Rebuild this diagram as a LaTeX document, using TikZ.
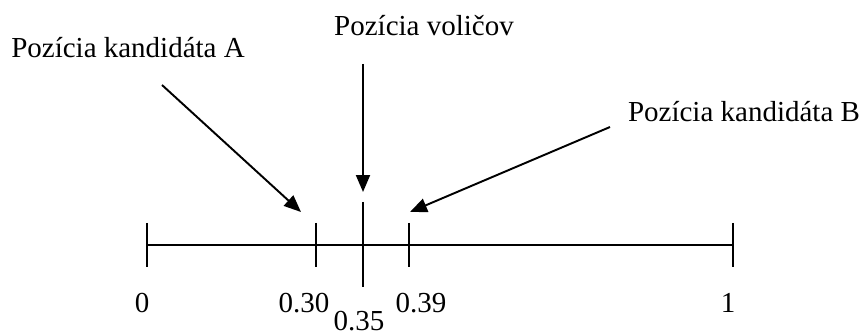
\documentclass[tikz,border=0pt]{standalone}
\usepackage{fontspec}
\setmainfont{Liberation Serif}
\usetikzlibrary{arrows.meta}

\tikzset{
  lbl/.style={anchor=base,inner sep=0pt,font=\fontsize{16.5}{19}\selectfont},
  num/.style={anchor=base,inner sep=0pt,font=\fontsize{16.5}{19}\selectfont},
  axisline/.style={line width=1.1pt},
  pointer/.style={line width=1.1pt,-{Triangle[length=0.34cm,width=0.28cm]}}
}

\begin{document}
\begin{tikzpicture}[x=0.02cm,y=-0.02cm]
                      \useasboundingbox (0,0) rectangle (862,334);
                      % labels
                      \node[lbl] (CandA) at (128,58) {Pozícia kandidáta A};
                      \node[lbl] (Voters) at (424,36) {Pozícia voličov};
                      \node[lbl] (CandB) at (744,122) {Pozícia kandidáta B};
                      % axis
                      \coordinate (P0) at (147,245);
                      \coordinate (P30) at (316,245);
                      \coordinate (P35) at (363,245);
                      \coordinate (P39) at (409,245);
                      \coordinate (P1) at (733,245);
                      \draw[axisline] (P0) -- (P1);
                      \draw[axisline] (P0) ++(0,-22) -- ++(0,44);
                      \draw[axisline] (P30) ++(0,-22) -- ++(0,44);
                      \draw[axisline] (P39) ++(0,-22) -- ++(0,44);
                      \draw[axisline] (P1) ++(0,-22) -- ++(0,44);
                      \draw[axisline] (P35) ++(0,-43) -- ++(0,85);
                      \node[num] (N0) at (142,313) {0};
                      \node[num] (N30) at (304,313) {0.30};
                      \node[num] (N35) at (359,330) {0.35};
                      \node[num] (N39) at (421,313) {0.39};
                      \node[num] (N1) at (728,313) {1};
                      % arrows
                      \coordinate (A1) at (162,85);
                      \coordinate (A2) at (301,212);
                      \coordinate (V1) at (363,64);
                      \coordinate (V2) at (363,192);
                      \coordinate (B1) at (610,127);
                      \coordinate (B2) at (410,212);
                      \draw[pointer] (A1) -- (A2);
                      \draw[pointer] (V1) -- (V2);
                      \draw[pointer] (B1) -- (B2);
                    \end{tikzpicture}
\end{document}
